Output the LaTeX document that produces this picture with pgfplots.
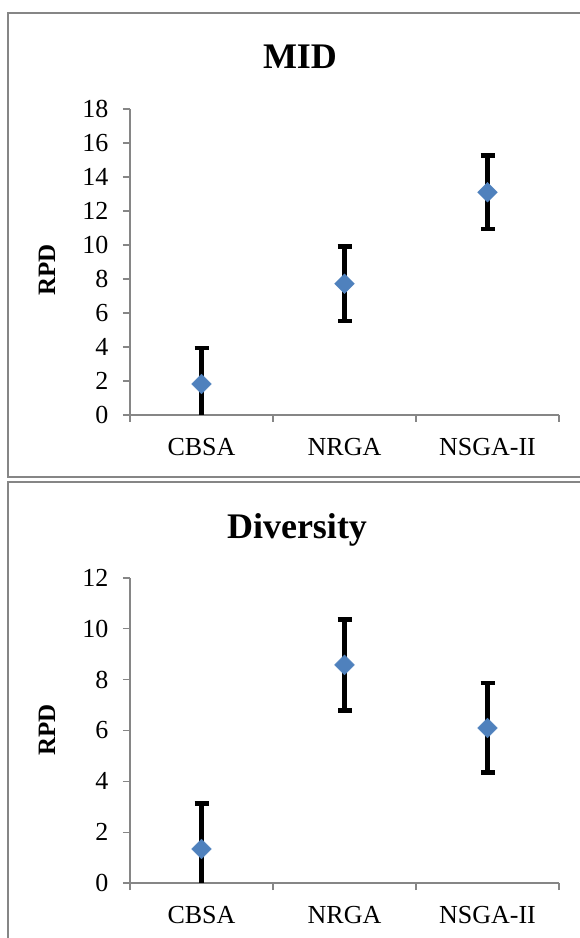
\documentclass[border=0pt]{standalone}
\usepackage{pgfplots}
\pgfplotsset{compat=1.18}
\usepackage{fontspec}
\setmainfont{Liberation Serif}
\definecolor{mblue}{HTML}{4F81BD}
\definecolor{axgray}{HTML}{868686}
\pgfplotsset{
  myax/.style={
    scale only axis, width=429pt,
    xmin=0.5, xmax=3.5, ymin=0,
    axis x line=bottom, axis y line=left,
    axis line style={-, axgray, line width=1.3pt},
    tick style={axgray, line width=1.3pt},
    major tick length=7pt, tick align=outside,
    xtick={0.5,1.5,2.5,3.5}, xticklabels={},
    extra x ticks={1,2,3}, extra x tick labels={CBSA,NRGA,NSGA-II},
    extra x tick style={major tick length=0pt, xticklabel style={yshift=-20pt}},
    ticklabel style={font=\fontsize{26}{30}\selectfont, text=black},
    yticklabel style={xshift=-11pt},
    /pgf/number format/assume math mode=true,
  },
  myplot/.style={
    only marks, mark=square*, mark size=7pt,
    mark options={rotate=45, fill=mblue, draw=mblue},
    error bars/.cd, y dir=both, y explicit,
    error mark=|,
    error bar style={line width=4.5pt, black},
    error mark options={mark size=7pt, line width=4.5pt, black},
  },
}
\begin{document}
\begin{tikzpicture}[x=1pt,y=1pt]
\path[use as bounding box] (0,0) rectangle (579,938);
\draw[axgray, line width=1.5pt] (8,925) rectangle (595,461);
\draw[axgray, line width=1.5pt] (8,456) rectangle (595,-10);
\begin{axis}[myax, height=306pt, ymax=18, ytick={0,2,...,18},
  at={(130pt,523pt)}, anchor=south west]
\addplot[myplot] table[x=x, y=y, y error=e] {
x y e
1 1.82 2.12
2 7.72 2.2
3 13.1 2.15
};
\end{axis}
\begin{axis}[myax, height=305pt, ymax=12, ytick={0,2,...,12},
  at={(130pt,55pt)}, anchor=south west]
\addplot[myplot] table[x=x, y=y, y error=e] {
x y e
1 1.34 1.78
2 8.58 1.79
3 6.10 1.76
};
\end{axis}
\node[font=\fontsize{36}{40}\selectfont\bfseries] at (300,881) {MID};
\node[font=\fontsize{36}{40}\selectfont\bfseries] at (297,408) {Diversity};
\node[font=\fontsize{25}{30}\selectfont\bfseries, rotate=90] at (47,668) {RPD};
\node[font=\fontsize{25}{30}\selectfont\bfseries, rotate=90] at (47,208) {RPD};
\end{tikzpicture}
\end{document}
